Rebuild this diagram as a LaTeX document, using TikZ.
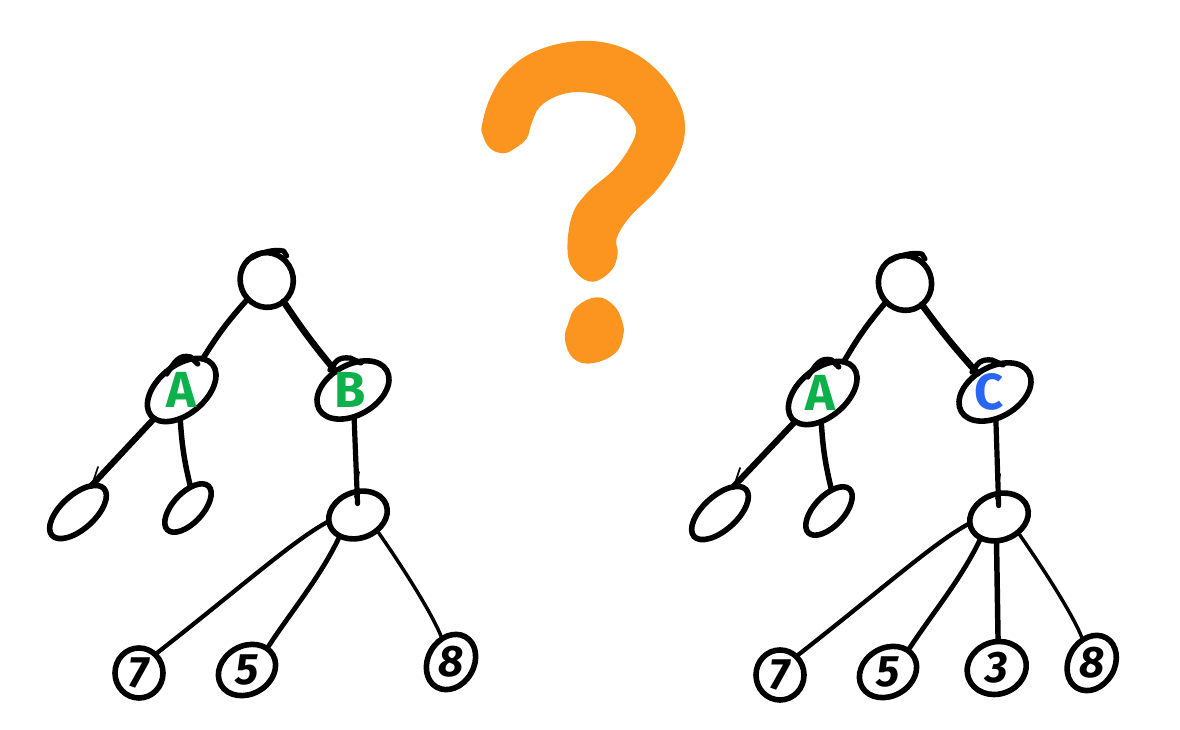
\documentclass[tikz,border=0pt]{standalone}
\usepackage{fontspec}
\setmainfont{Fira Sans}
\usetikzlibrary{shapes.geometric}
\definecolor{qorange}{HTML}{FB951F}
\definecolor{tagg}{HTML}{0DB14B}
\definecolor{tagb}{HTML}{2A66F5}
\tikzset{
	oval/.style={draw, ellipse, line width=4.2pt, inner sep=0pt, outer sep=0pt},
	edge/.style={line width=#1},
	edge/.default=3.6pt,
	barb/.style={line width=1.3pt},
	tag/.style={font=\fontsize{38}{38}\selectfont\bfseries, inner sep=0pt},
	digit/.style={font=\fontsize{33}{33}\selectfont\bfseries\itshape, inner sep=0pt}
}
\begin{document}
\begin{tikzpicture}[x=0.75pt, y=0.75pt, line join=round, line cap=round]
	\useasboundingbox (0,0) rectangle (1180,730);
	\fill[qorange] plot[smooth cycle, tension=0.65] coordinates {(482,605) (490,631.7) (506.7,658.3) (536.7,679.3) (580,689) (620,683.3) (653.3,663.3) (676.7,633.3) (685,601.7) (676.7,570) (656.7,540) (630,513.3) (616.7,491.7) (617.7,476.7) (611.7,460) (593.3,448.3) (576.7,456.7) (567.7,476.7) (571.7,513.3) (586.7,536.7) (613.3,560) (630,583.3) (636,601.7) (626.7,618.3) (610,631.7) (583.3,637.7) (560,635) (540,623.3) (531.7,606.7) (526.7,591.7) (515,581.7) (503.3,576.7) (490,581.7) (482.7,595)};
	\fill[qorange] plot[smooth cycle, tension=0.7] coordinates {(596.7,432.7) (613.3,425) (621.7,410) (623.3,395) (615,376.7) (591.7,366.7) (573.3,371.7) (565,390) (568.3,406.7) (576.7,423.3)};
	% both trees
	\foreach \n/\x/\y/\w/\h/\r in {
		rootl/266.7/450/53/55/20, al/181.7/340/80/48/40, xl/353/340/78/50/30,
		pl/78/218/70/34/42, ql/188/222/60/30/47, midl/358/215/60/46/20,
		sevl/139/57/48/50/0, fivl/247/60/60/48/30, eigl/451/68/58/46/60,
		rootr/905/447/53/55/20, ar/822.7/337/80/48/40, xr/995/338/78/50/30,
		pr/720/217/70/34/42, qr/829/219/60/30/47, midr/999/213/60/46/20,
		sevr/780/55/48/50/0, fivr/888/58/60/48/30, thrr/996.7/62/60/52/20, eigr/1091.7/67/58/46/60}{
		\node[oval, minimum width=\w*0.75pt, minimum height=\h*0.75pt, rotate=\r] (\n) at (\x,\y) {};
	}
	\foreach \s in {l,r}{
		\draw[edge=4.2pt] (root\s.205) to[bend right=5] (a\s.16);
		\draw[edge=4.9pt] (root\s.-72) to[bend right=3] (x\s.103);
		\draw[edge=4.6pt] (a\s.186) -- (p\s.21);
		\draw[edge=4.1pt] (a\s.227) to[bend right=5] (q\s.36);
		\draw[edge=3.9pt, shorten >=-9pt] (x\s) -- (mid\s);
		\draw[edge=3.2pt] (mid\s.172) .. controls +(208:40) and +(38:110) .. (sev\s.49);
		\draw[edge=3.6pt] (mid\s.209) .. controls +(245:45) and +(57:45) .. (fiv\s.17);
		\draw[edge=2.6pt, shorten >=2pt] (mid\s.-59) .. controls +(-55:40) and +(112:30) .. (eig\s.51);
		% overshoot of the pen
		\draw[edge=3.8pt] ([shift={(-15,22)}]root\s.center) .. controls +(10,6) and +(-10,2) .. ([shift={(17,29)}]root\s.center) -- ([shift={(20,24)}]root\s.center);
		\draw[edge=4pt] ([shift={(-15,16)}]a\s.center) .. controls +(8,12) and +(-12,3) .. ([shift={(9,33)}]a\s.center) -- ([shift={(16,26)}]a\s.center);
		\draw[edge=4pt] ([shift={(-23,20)}]x\s.center) .. controls +(6,9) and +(-12,1) .. ([shift={(-3,32)}]x\s.center) -- ([shift={(8,27)}]x\s.center);
		\draw[barb] ([shift={(20,45)}]p\s.center) -- ([shift={(15,30)}]p\s.center);
		\draw[barb] ([shift={(1,43)}]mid\s.center) -- ([shift={(-3,18)}]mid\s.center);
	}
	\draw[edge=4.1pt] (midr.244) -- (thrr.67);
	\foreach \n/\t/\c/\d in {al/A/tagg/0, xl/B/tagg/-3, ar/A/tagg/-2, xr/C/tagb/-6}{
		\node[tag, text=\c] (t\n) at ([xshift=\d*0.75pt]\n.center) {\t};
	}
	\foreach \n/\t in {sevl/7, fivl/5, eigl/8, sevr/7, fivr/5, thrr/3, eigr/8}{
		\node[digit] (t\n) at (\n.center) {\t};
	}
\end{tikzpicture}
\end{document}
